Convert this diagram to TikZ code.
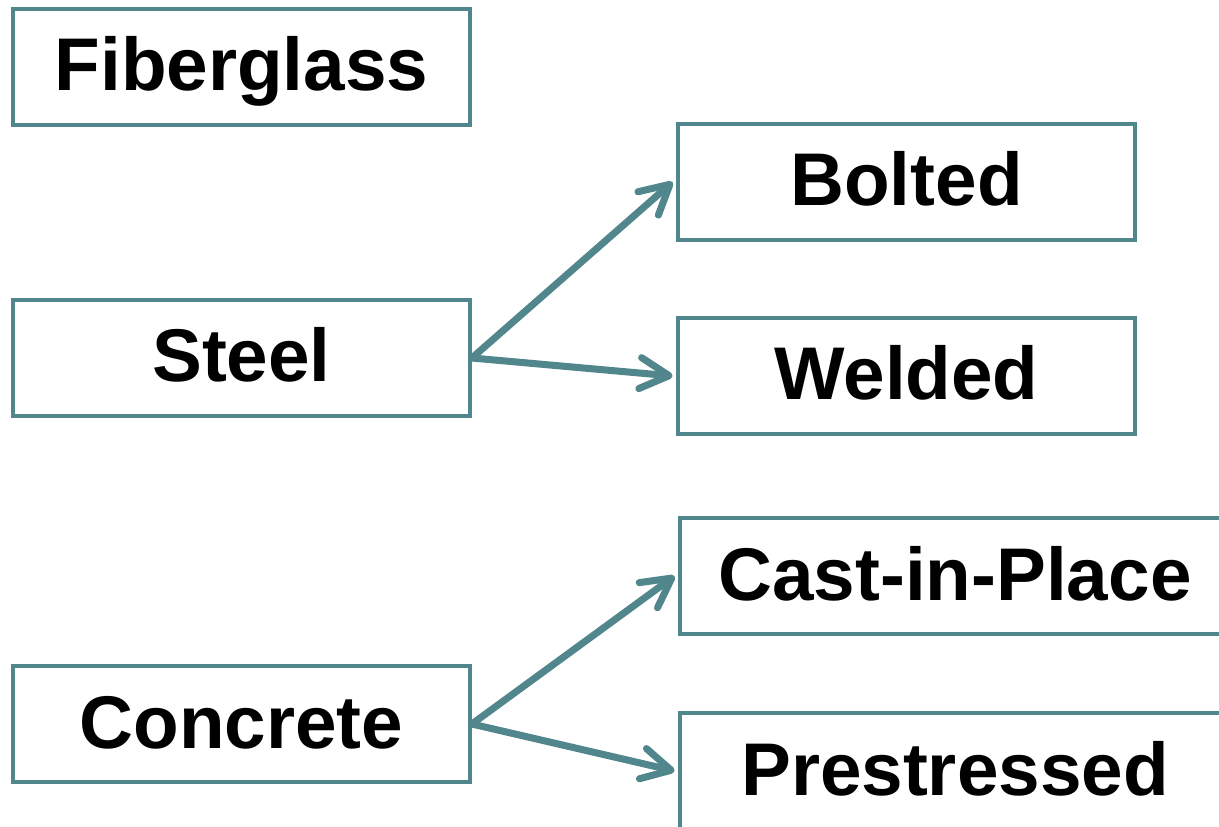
\documentclass[tikz,border=0pt]{standalone}
\usepackage{fontspec}
\setmainfont{Liberation Sans}
\usetikzlibrary{arrows.meta}
\definecolor{teal}{RGB}{80,134,140}
\tikzset{
    matbox/.style={draw=teal, line width=2.2pt, minimum width=9.14cm, minimum height=2.32cm,
        inner sep=0pt, text height=1.1cm, text depth=0.14cm,
        font=\fontsize{42.5}{42.5}\selectfont\bfseries},
    wide/.style={minimum width=11cm},
    link/.style={draw=teal, line width=4pt, line cap=round,
        -{Straight Barb[length=0.58cm, width=0.62cm, round]}}
}
\begin{document}
\begin{tikzpicture}[x=0.02cm, y=-0.02cm]
        \useasboundingbox (0, 0) rectangle (1219, 827);
        \clip (0, 0) rectangle (1219, 827);

        \node[matbox] (fiber) at (241.5, 67) {Fiberglass};
        \node[matbox] (steel) at (241.5, 358) {Steel};
        \node[matbox] (concrete) at (241.5, 724) {Concrete};

        \node[matbox] (bolted) at (906.5, 182) {Bolted};
        \node[matbox] (welded) at (906.5, 376) {Welded};
        \node[matbox, wide] (cast) at (955, 576) {Cast-in-Place};
        \node[matbox, wide] (prest) at (955, 771) {Prestressed};

        \draw[link] (steel.east) -- ([xshift=-2]bolted.west);
        \draw[link] (steel.east) -- ([xshift=-2]welded.west);
        \draw[link] (concrete.east) -- ([xshift=-2]cast.west);
        \draw[link] (concrete.east) -- ([xshift=-2]prest.west);
    \end{tikzpicture}
\end{document}
